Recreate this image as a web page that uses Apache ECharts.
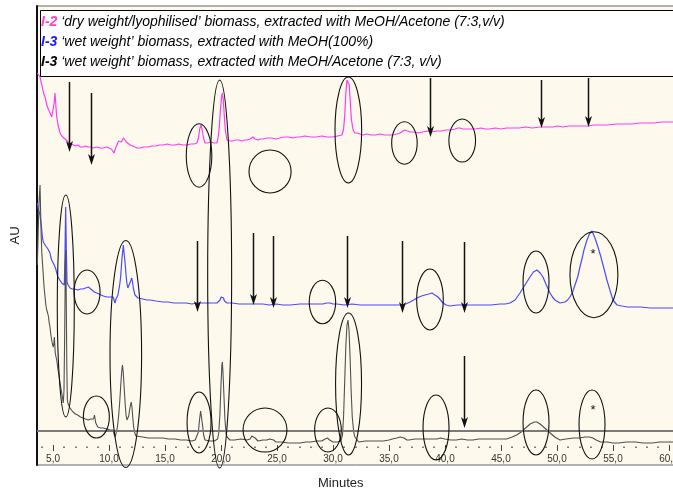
<!DOCTYPE html>
<html><head><meta charset="utf-8">
<script src="https://cdn.jsdelivr.net/npm/echarts@6/dist/echarts.min.js"></script>
<style>html,body{margin:0;padding:0;background:#fff}#c{width:673px;height:494px}</style>
</head><body><div id="c"></div>
<script>
// ---- data (time in minutes, response in arbitrary AU units) ----
const timeRange = [3.57, 60.54];
const majorTicks = [5, 10, 15, 20, 25, 30, 35, 40, 45, 50, 55, 60];
const minorTicks = [4, 6, 7, 8, 9, 11, 12, 13, 14, 16, 17, 18, 19, 21, 22, 23, 24, 26, 27, 28, 29, 31, 32, 33, 34, 36, 37, 38, 39, 41, 42, 43, 44, 46, 47, 48, 49, 51, 52, 53, 54, 56, 57, 58, 59];
const seriesNames = [
  "I-2 \u2018dry weight/lyophilised\u2019 biomass, extracted with MeOH/Acetone (7:3,v/v)",
  "I-3 \u2018wet weight\u2019 biomass, extracted with MeOH(100%)",
  "I-3 \u2018wet weight\u2019 biomass, extracted with MeOH/Acetone (7:3, v/v)"
];
const refLineLevel = 34;

const traceI2 = [
[3.6,392],[3.84,388],[4.0,380],[4.15,372],[4.29,368],[4.4,362],[4.5,358],[4.62,355],[4.73,352],[4.88,348],[5.0,350],[5.1,362],[5.18,372],[5.25,360],[5.33,348],[5.45,340],[5.63,332],[5.78,329],[5.92,327],[6.07,326],[6.22,325],[6.36,323],[6.5,322],[6.65,321],[6.79,320],[7.0,319],[7.2,320],[7.45,318],[7.68,318],[7.9,319],[8.1,318],[8.3,318],[8.6,317],[8.93,318],[9.2,317],[9.5,317],[9.8,318],[10.0,317],[10.2,316],[10.36,317],[10.45,312],[10.5,310],[10.56,316],[10.7,320],[10.85,324],[10.98,325],[11.1,323],[11.2,324],[11.3,327],[11.43,326],[11.55,323],[11.7,321],[11.88,320],[12.1,319],[12.3,318],[12.5,317],[12.77,317],[13.1,318],[13.5,318],[13.8,319],[14.2,319],[14.5,320],[14.82,320],[15.2,321],[15.5,320],[15.9,320],[16.2,321],[16.6,320],[16.96,320],[17.3,321],[17.6,321],[17.86,322],[18.0,328],[18.1,336],[18.21,340],[18.3,336],[18.42,328],[18.57,322],[18.8,322],[19.1,323],[19.4,322],[19.64,322],[19.75,328],[19.85,338],[19.95,355],[20.05,368],[20.12,372],[20.2,366],[20.3,348],[20.4,334],[20.54,325],[20.8,324],[21.0,324],[21.3,325],[21.6,325],[21.9,324],[22.1,325],[22.32,325],[22.6,326],[22.86,328],[23.05,326],[23.3,325],[23.55,326],[23.75,326],[24.1,327],[24.5,327],[24.9,326],[25.27,327],[25.6,328],[26.0,328],[26.4,327],[26.8,328],[27.05,328],[27.5,329],[28.0,328],[28.5,328],[29.0,329],[29.5,328],[30.0,328],[30.4,329],[30.8,330],[30.95,336],[31.05,350],[31.15,372],[31.25,385],[31.34,387],[31.45,380],[31.55,362],[31.65,345],[31.8,335],[31.95,332],[32.14,332],[32.4,331],[32.68,330],[33.0,331],[33.4,330],[33.8,330],[34.2,331],[34.6,330],[35.0,330],[35.36,330],[35.7,331],[36.0,332],[36.25,334],[36.43,335],[36.65,334],[36.88,333],[37.2,333],[37.6,332],[38.0,333],[38.4,334],[38.8,333],[39.29,334],[39.7,334],[40.1,335],[40.5,335],[40.9,336],[41.15,337],[41.34,337],[41.6,336],[41.9,336],[42.23,336],[42.7,336],[43.2,337],[43.6,336],[44.0,336],[44.5,337],[45.0,336],[45.5,337],[46.0,337],[46.6,337],[47.2,338],[47.8,337],[48.48,338],[49.0,338],[49.6,338],[50.1,339],[50.5,338],[51.1,339],[51.6,339],[52.2,339],[52.77,339],[53.3,340],[53.9,340],[54.5,340],[55.36,341],[56.0,341],[56.7,341],[57.4,342],[58.0,342],[58.7,342],[59.4,343],[60.0,343],[60.54,343]
];

const traceI3MeOH = [
[3.6,262],[3.7,255],[3.84,250],[3.95,240],[4.05,228],[4.13,223],[4.25,221],[4.35,219],[4.44,218],[4.55,216],[4.65,215],[4.73,212],[4.8,208],[4.88,205],[4.95,206],[5.03,203],[5.15,199],[5.27,195],[5.36,191],[5.45,188],[5.6,185],[5.78,182],[5.9,181],[6.01,180],[6.07,212],[6.13,258],[6.19,215],[6.25,183],[6.35,180],[6.52,177],[6.7,176],[6.9,176],[7.05,175],[7.23,175],[7.45,176],[7.68,176],[7.9,177],[8.05,176],[8.15,178],[8.25,176],[8.48,175],[8.7,173],[8.9,172],[9.1,171],[9.29,170],[9.5,169],[9.8,168],[10.1,168],[10.36,168],[10.45,165],[10.54,162],[10.62,166],[10.8,170],[10.95,180],[11.04,188],[11.16,207],[11.28,220],[11.36,210],[11.43,203],[11.5,193],[11.58,183],[11.68,177],[11.76,175],[11.84,178],[11.9,183],[12.03,187],[12.1,183],[12.17,177],[12.32,170],[12.45,168],[12.59,167],[13.0,166],[13.4,165],[13.66,165],[14.2,164],[14.82,163],[15.3,163],[15.8,162],[16.34,162],[16.9,162],[17.4,161],[17.86,162],[18.4,162],[19.0,162],[19.64,162],[19.8,163],[19.91,165],[20.02,168],[20.12,170],[20.22,167],[20.31,164],[20.54,162],[21.0,162],[21.6,161],[22.14,161],[22.8,161],[23.4,161],[23.75,161],[24.3,160],[24.9,161],[25.54,160],[26.2,160],[27.05,161],[27.8,161],[28.57,161],[29.1,161],[29.4,162],[29.55,163],[29.75,162],[30.0,161],[30.36,161],[31.0,160],[31.7,161],[32.41,160],[33.1,160],[33.8,160],[34.46,160],[35.3,160],[36.16,160],[36.5,161],[36.88,163],[37.2,165],[37.5,167],[37.9,169],[38.21,170],[38.55,171],[38.84,172],[39.1,170],[39.38,168],[39.6,165],[39.82,162],[40.1,160],[40.45,159],[41.1,160],[41.79,160],[42.6,160],[43.39,160],[44.1,160],[44.91,161],[45.4,161],[45.8,162],[46.25,165],[46.7,172],[47.14,180],[47.59,188],[47.9,193],[48.21,195],[48.5,192],[48.75,188],[49.05,180],[49.38,172],[49.6,168],[49.82,165],[50.27,162],[50.71,163],[50.95,165],[51.16,168],[51.4,173],[51.61,180],[51.85,188],[52.05,198],[52.25,207],[52.41,215],[52.68,225],[52.9,231],[53.13,234],[53.39,227],[53.66,218],[53.9,209],[54.11,200],[54.3,192],[54.46,185],[54.75,174],[55.0,165],[55.36,160],[55.8,159],[56.3,158],[56.79,158],[57.5,158],[58.3,157],[59.1,157],[59.8,157],[60.54,157]
];

const traceI3MeOHAc = [
[3.6,200],[3.68,235],[3.75,262],[3.84,280],[3.9,250],[3.95,228],[4.0,212],[4.07,200],[4.13,190],[4.2,178],[4.29,168],[4.36,160],[4.44,155],[4.52,152],[4.6,148],[4.66,142],[4.73,138],[4.8,131],[4.88,125],[4.95,121],[5.03,118],[5.08,122],[5.12,128],[5.16,120],[5.2,112],[5.27,108],[5.33,105],[5.4,99],[5.45,95],[5.55,88],[5.63,82],[5.7,77],[5.78,72],[5.85,67],[5.92,62],[5.98,75],[6.04,130],[6.1,200],[6.14,215],[6.18,170],[6.23,100],[6.28,65],[6.35,61],[6.45,59],[6.52,57],[6.65,55],[6.79,53],[7.0,51],[7.2,50],[7.45,48],[7.68,47],[7.9,46],[8.15,45],[8.35,46],[8.5,45],[8.62,46],[8.7,50],[8.76,48],[8.82,42],[8.9,40],[9.0,38],[9.25,37],[9.5,37],[9.8,36],[10.1,35],[10.36,35],[10.45,31],[10.54,28],[10.62,31],[10.75,38],[10.85,48],[10.95,62],[11.05,80],[11.13,93],[11.2,100],[11.27,93],[11.35,78],[11.45,60],[11.52,50],[11.6,45],[11.68,45],[11.76,49],[11.84,55],[11.9,59],[11.98,63],[12.05,58],[12.12,48],[12.2,38],[12.3,32],[12.4,29],[12.5,28],[13.0,28],[13.5,27],[14.1,27],[14.82,27],[15.3,26],[15.9,26],[16.4,25],[16.9,25],[17.4,24],[17.7,25],[17.86,26],[17.98,33],[18.08,45],[18.18,54],[18.26,52],[18.35,40],[18.45,30],[18.57,25],[19.0,24],[19.4,24],[19.7,26],[19.8,32],[19.9,50],[20.0,80],[20.08,100],[20.12,103],[20.18,92],[20.26,70],[20.35,46],[20.45,32],[20.54,28],[20.8,25],[21.2,25],[21.8,26],[22.3,25],[22.6,26],[22.75,29],[22.9,31],[23.05,27],[23.3,24],[23.75,25],[24.1,25],[24.35,26],[24.5,27],[24.7,25],[24.9,23],[25.4,23],[26.0,22],[26.6,22],[27.05,22],[27.6,23],[28.0,23],[28.57,24],[29.0,24],[29.3,26],[29.5,27],[29.7,25],[30.0,23],[30.4,23],[30.7,24],[30.85,30],[30.95,50],[31.05,85],[31.15,120],[31.25,140],[31.34,145],[31.43,135],[31.52,110],[31.62,75],[31.72,48],[31.85,33],[31.95,28],[32.3,23],[32.9,24],[33.5,24],[34.0,24],[34.5,24],[35.0,25],[35.3,26],[35.7,27],[36.0,28],[36.16,29],[36.35,27],[36.6,25],[36.8,25],[37.3,26],[37.8,26],[38.3,26],[38.8,26],[39.3,26],[39.6,27],[40.0,26],[40.5,25],[41.0,25],[41.5,26],[42.0,25],[42.5,25],[43.0,26],[43.5,26],[44.0,26],[44.5,26],[45.0,26],[45.5,26],[46.0,28],[46.4,30],[46.8,33],[47.2,37],[47.6,41],[48.0,43],[48.2,43],[48.5,41],[48.8,38],[49.1,35],[49.4,32],[49.8,28],[50.27,25],[50.8,26],[51.5,27],[52.0,27],[52.5,28],[52.9,28],[53.2,27],[53.5,25],[53.9,23],[54.5,23],[55.0,22],[55.5,22],[56.2,23],[57.0,23],[57.7,22],[58.5,22],[59.2,23],[60.0,23],[60.54,23]
];

// annotations: ellipses [centre time, centre level, x radius (min), y radius (AU)]
const ellipses = [
[6.14,159,0.76,111],[8.04,173,1.16,22],[8.87,48,1.16,21],[11.5,111,1.41,113.5],
[18.04,309.5,1.14,31.7],[19.88,191,1.07,194],[18.04,42.5,1.07,30.5],
[24.38,293.5,1.88,21.5],[23.93,35,1.96,22],[29.06,163,1.18,21.7],[29.55,35,1.19,22],
[31.37,335,1.19,53],[31.39,81,1.16,71],[36.38,322,1.14,21.3],[41.54,324.5,1.19,21.5],
[38.66,165.5,1.19,30.5],[39.2,37.5,1.16,32.5],[48.13,183,1.16,31],[48.13,42.5,1.16,32.5],
[53.3,190.3,2.14,43],[53.13,40.5,1.16,34.5]
];
// arrows [time, top level, tip level]
const arrows = [
[6.43,383,313],[8.37,372,300],[38.66,387,328],[48.57,385,337],[52.8,387,338],
[17.83,224,153],[22.83,232,160],[24.67,229,157],[31.25,229,157],[36.16,224,152],[41.7,223,152],
[41.7,109,37]
];
const asterisks = [[53.21,211],[53.21,55]];

// ---- chart ----
const FONT = '"Liberation Sans", Arial, sans-serif';
const colors = ['#ff3cf5', '#4b4bff', '#505050'];
const chart = echarts.init(document.getElementById('c'), null, {renderer: 'canvas'});

const legendKeys = ['m', 'b', 'k'];
const option = {
  animation: false,
  backgroundColor: '#ffffff',
  grid: {left: 37, right: -2, top: 6, bottom: 29, show: true, backgroundColor: '#fdf9ec', borderColor: '#666', borderWidth: 1,
         containLabel: false, outerBoundsMode: 'none'},
  xAxis: [
    {type: 'value', min: timeRange[0], max: timeRange[1], position: 'bottom', offset: -14,
     axisLine: {show: false, onZero: false}, splitLine: {show: false},
     axisTick: {show: true, inside: true, length: 6, customValues: majorTicks, lineStyle: {color: '#444', width: 1}},
     axisLabel: {show: true, customValues: majorTicks, margin: 3, fontSize: 10, color: '#333', fontFamily: FONT, hideOverlap: false,
                 formatter: v => v.toFixed(1).replace('.', ',')}},
    {type: 'value', min: timeRange[0], max: timeRange[1], position: 'bottom', offset: -17,
     axisLine: {show: false, onZero: false}, splitLine: {show: false}, axisLabel: {show: false},
     axisTick: {show: true, inside: true, length: 1.5, customValues: minorTicks, lineStyle: {color: '#555', width: 1.5}}}
  ],
  yAxis: {type: 'value', min: 0, max: 459, name: 'AU', nameLocation: 'middle', nameGap: 15, nameRotate: 90,
    nameTextStyle: {fontSize: 13, color: '#222', fontFamily: FONT},
    axisLine: {show: true, lineStyle: {color: '#111', width: 2}}, axisTick: {show: false}, axisLabel: {show: false}, splitLine: {show: false}},
  legend: {
    data: seriesNames, orient: 'vertical', left: 36, top: 15, padding: 0, itemWidth: 0, itemHeight: 14, itemGap: 6,
    icon: 'none', selectedMode: false, z: 10,
    formatter: name => {
      const i = seriesNames.indexOf(name);
      const sp = name.indexOf(' ');
      return '{' + legendKeys[i] + '|' + name.slice(0, sp) + '}{t|' + name.slice(sp) + '}';
    },
    textStyle: {fontSize: 14, fontFamily: FONT, fontStyle: 'italic', color: '#000',
      rich: {
        m: {color: '#ff3fc8', fontWeight: 'bold', fontStyle: 'italic', fontSize: 14, fontFamily: FONT},
        b: {color: '#1818ff', fontWeight: 'bold', fontStyle: 'italic', fontSize: 14, fontFamily: FONT},
        k: {color: '#000', fontWeight: 'bold', fontStyle: 'italic', fontSize: 14, fontFamily: FONT},
        t: {color: '#000', fontStyle: 'italic', fontSize: 14, fontFamily: FONT}
      }}
  },
  graphic: [
    {type: 'rect', z: 6, shape: {x: 40.5, y: 10.5, width: 660, height: 66}, style: {fill: '#ffffff', stroke: '#000', lineWidth: 1}},
    {type: 'text', z: 6, left: 318, top: 477, style: {text: 'Minutes', fontSize: 13, fontFamily: FONT, fill: '#222'}}
  ],
  series: [
    {name: seriesNames[0], type: 'line', data: traceI2, showSymbol: false, symbol: 'none', z: 2,
     lineStyle: {color: colors[0], width: 1.2}, itemStyle: {color: colors[0]}},
    {name: seriesNames[1], type: 'line', data: traceI3MeOH, showSymbol: false, symbol: 'none', z: 2,
     lineStyle: {color: colors[1], width: 1.2}, itemStyle: {color: colors[1]}},
    {name: seriesNames[2], type: 'line', data: traceI3MeOHAc, showSymbol: false, symbol: 'none', z: 2,
     lineStyle: {color: colors[2], width: 1.1}, itemStyle: {color: colors[2]},
     markLine: {silent: true, symbol: 'none', label: {show: false}, data: [{yAxis: refLineLevel}],
       lineStyle: {color: '#7a7a7a', width: 2, type: 'solid'}}},
    {type: 'custom', data: ellipses, z: 5, silent: true, clip: false,
     renderItem: (params, api) => {
       const c = api.coord([api.value(0), api.value(1)]);
       const s = api.size([api.value(2), api.value(3)]);
       return {type: 'ellipse', shape: {cx: c[0], cy: c[1], rx: s[0], ry: s[1]},
               style: {fill: 'none', stroke: '#111', lineWidth: 1.1}};
     }},
    {type: 'custom', data: arrows, z: 5, silent: true, clip: false,
     renderItem: (params, api) => {
       const top = api.coord([api.value(0), api.value(1)]);
       const bot = api.coord([api.value(0), api.value(2)]);
       const x = Math.round(top[0]) + 0.5, yb = bot[1];
       return {type: 'group', children: [
         {type: 'line', shape: {x1: x, y1: top[1], x2: x, y2: yb - 6}, style: {stroke: '#111', lineWidth: 1.5}},
         {type: 'polygon', shape: {points: [[x - 3.5, yb - 11], [x, yb], [x + 3.5, yb - 11], [x, yb - 8]]}, style: {fill: '#111'}}
       ]};
     }},
    {type: 'custom', data: asterisks, z: 5, silent: true, clip: false,
     renderItem: (params, api) => {
       const p = api.coord([api.value(0), api.value(1)]);
       return {type: 'text', style: {text: '*', x: p[0], y: p[1], align: 'center', verticalAlign: 'middle', fontSize: 13, fontFamily: FONT, fill: '#111'}};
     }}
  ]
};
chart.setOption(option);
</script></body></html>
